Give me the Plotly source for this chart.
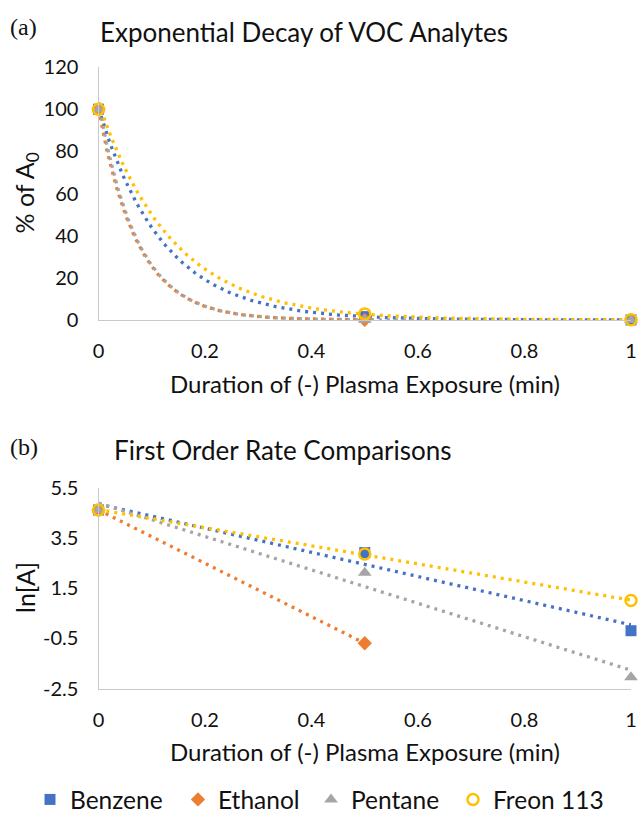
import numpy as np
import plotly.graph_objects as go

# ---------------- data ----------------
series_names = ["Benzene", "Ethanol", "Pentane", "Freon 113"]
series_colors = ["#4472C4", "#ED7D31", "#A5A5A5", "#FFC000"]

# panel (a): % of A0 vs duration (min)
time_a_benzene = [0, 0.5, 1]
time_a_ethanol = [0, 0.5]
time_a_pentane = [0, 0.5, 1]
time_a_freon = [0, 0.5, 1]
pct_benzene = [100, 1.6, 0.025]
pct_ethanol = [100, 0.106]
pct_pentane = [100, 0.11, 0.0001]
pct_freon = [100, 2.9, 0.07]

# panel (b): ln[A] vs duration (min)
time_b_benzene = [0, 0.5, 1]
time_b_ethanol = [0, 0.5]
time_b_pentane = [0, 0.5, 1]
time_b_freon = [0, 0.5, 1]
ln_benzene = [4.605, 2.91, -0.20]
ln_ethanol = [4.605, -0.70]
ln_pentane = [4.605, 2.11, -2.05]
ln_freon = [4.605, 2.85, 1.00]

x_ticks = [0, 0.2, 0.4, 0.6, 0.8, 1]
x_ticktext = ["0", "0.2", "0.4", "0.6", "0.8", "1"]
ya_ticks = [0, 20, 40, 60, 80, 100, 120]
yb_ticks = [-2.5, -0.5, 1.5, 3.5, 5.5]
yb_ticktext = ["-2.5", "-0.5", "1.5", "3.5", "5.5"]

title_a = "Exponential Decay of VOC Analytes"
title_b = "First Order Rate Comparisons"
x_title = "Duration of (-) Plasma Exposure (min)"
y_title_a = "% of A<sub>0</sub>"
y_title_b = "ln[A]"

# ---------------- layout constants ----------------
W, H = 638, 814
FONT = "Lato"
TXT = "#111111"
AXC = "#C9C9C9"
x0_px, x1_px = 98.5, 631
a_top, a_bot = 67, 320
b_top, b_bot = 487.5, 688.5
legend_left_px = [30, 178, 311, 453]

def px_x(p):
    return p / W

def px_y(p):
    return 1 - p / H

symbols = ["square", "diamond", "triangle-up", "circle-open"]
sizes = [11, 11, 12, 11]
legend_ids = ["legend", "legend2", "legend3", "legend4"]

fig = go.Figure()

xa = [time_a_benzene, time_a_ethanol, time_a_pentane, time_a_freon]
ya = [pct_benzene, pct_ethanol, pct_pentane, pct_freon]
xb = [time_b_benzene, time_b_ethanol, time_b_pentane, time_b_freon]
yb = [ln_benzene, ln_ethanol, ln_pentane, ln_freon]

dot = "3px,5px"

# trendlines (least-squares fits of the data, like Excel trendlines)
for i in range(4):
    xs = np.array(xa[i], float)
    ys = np.array(ya[i], float)
    k, c = np.polyfit(xs, np.log(ys), 1)
    tx = np.linspace(xs.min(), xs.max(), 200)
    fig.add_trace(go.Scatter(x=tx, y=np.exp(c + k * tx), mode="lines",
                             line=dict(color=series_colors[i], width=3.3, dash=dot),
                             xaxis="x", yaxis="y", showlegend=False, hoverinfo="skip"))
for i in range(4):
    xs = np.array(xb[i], float)
    ys = np.array(yb[i], float)
    k, c = np.polyfit(xs, ys, 1)
    tx = np.array([xs.min(), xs.max()])
    fig.add_trace(go.Scatter(x=tx, y=c + k * tx, mode="lines",
                             line=dict(color=series_colors[i], width=3.3, dash=dot),
                             xaxis="x2", yaxis="y2", showlegend=False, hoverinfo="skip"))

# markers
for i in range(4):
    mk = dict(symbol=symbols[i], size=sizes[i], color=series_colors[i],
              line=dict(color=series_colors[i], width=2.5 if i == 3 else 0))
    fig.add_trace(go.Scatter(x=xa[i], y=ya[i], mode="markers", marker=mk,
                             name=series_names[i], legendgroup=series_names[i],
                             showlegend=False, cliponaxis=False, xaxis="x", yaxis="y"))
for i in range(4):
    mk = dict(symbol=symbols[i], size=sizes[i], color=series_colors[i],
              line=dict(color=series_colors[i], width=2.5 if i == 3 else 0))
    fig.add_trace(go.Scatter(x=xb[i], y=yb[i], mode="markers", marker=mk,
                             name=series_names[i], legendgroup=series_names[i],
                             legend=legend_ids[i],
                             showlegend=True, cliponaxis=False, xaxis="x2", yaxis="y2"))

xdom = [px_x(x0_px), px_x(x1_px)]
common_x = dict(range=[0, 1], tickvals=x_ticks, ticktext=x_ticktext, showgrid=False,
                zeroline=False, showline=True, linecolor=AXC, linewidth=1.3,
                ticks="outside", ticklen=13, tickcolor="rgba(0,0,0,0)",
                tickfont=dict(family=FONT, size=20, color=TXT), automargin=False,
                domain=xdom)
common_y = dict(showgrid=False, zeroline=False, showline=True, linecolor=AXC,
                linewidth=1.3, ticks="outside", ticklen=15, tickcolor="rgba(0,0,0,0)",
                tickfont=dict(family=FONT, size=20, color=TXT), automargin=False)

legends = {}
for i, lid in enumerate(legend_ids):
    legends[lid] = dict(orientation="h", x=px_x(legend_left_px[i]), xanchor="left",
                        y=px_y(799.5), yanchor="middle",
                        font=dict(family=FONT, size=24.5, color=TXT), itemwidth=30,
                        bgcolor="rgba(0,0,0,0)")

fig.update_layout(
    autosize=True, margin=dict(l=0, r=0, t=0, b=0, autoexpand=False),
    paper_bgcolor="white", plot_bgcolor="white",
    xaxis=dict(common_x, anchor="y"),
    yaxis=dict(common_y, range=[0, 120], tickvals=ya_ticks, anchor="x",
               domain=[px_y(a_bot), px_y(a_top)]),
    xaxis2=dict(common_x, anchor="y2"),
    yaxis2=dict(common_y, range=[-2.5, 5.5], tickvals=yb_ticks, ticktext=yb_ticktext,
                anchor="x2", domain=[px_y(b_bot), px_y(b_top)]),
    showlegend=True,
    **legends,
)

ann = []
def add_text(text, xp, yp, size, family=FONT, xanchor="center", angle=0):
    ann.append(dict(text=text, x=px_x(xp), y=px_y(yp), xref="paper", yref="paper",
                    showarrow=False, xanchor=xanchor, yanchor="middle", textangle=angle,
                    font=dict(family=family, size=size, color=TXT)))

add_text("(a)", 8, 27, 24, family="Liberation Serif", xanchor="left")
add_text("(b)", 8, 447, 24, family="Liberation Serif", xanchor="left")
add_text(title_a, 98, 32, 26, xanchor="left")
add_text(title_b, 112, 450, 26, xanchor="left")
add_text(x_title, (x0_px + x1_px) / 2, 383, 24)
add_text(x_title, (x0_px + x1_px) / 2, 751, 24)
add_text(y_title_a, 25, (a_top + a_bot) / 2, 25, angle=-90)
add_text(y_title_b, 25, (b_top + b_bot) / 2, 25, angle=-90)
fig.update_layout(annotations=ann)

post = ("document.documentElement.style.margin='0';"
        "document.documentElement.style.overflow='hidden';"
        "document.body.style.margin='0';document.body.style.overflow='hidden';"
        "var gd=document.getElementById('{plot_id}');"
        "gd.style.width='100vw';gd.style.height='100vh';"
        "Plotly.Plots.resize(gd);")

fig.write_html("out.html", config={"displayModeBar": False, "responsive": True},
               default_width="100vw", default_height="100vh", post_script=post)
